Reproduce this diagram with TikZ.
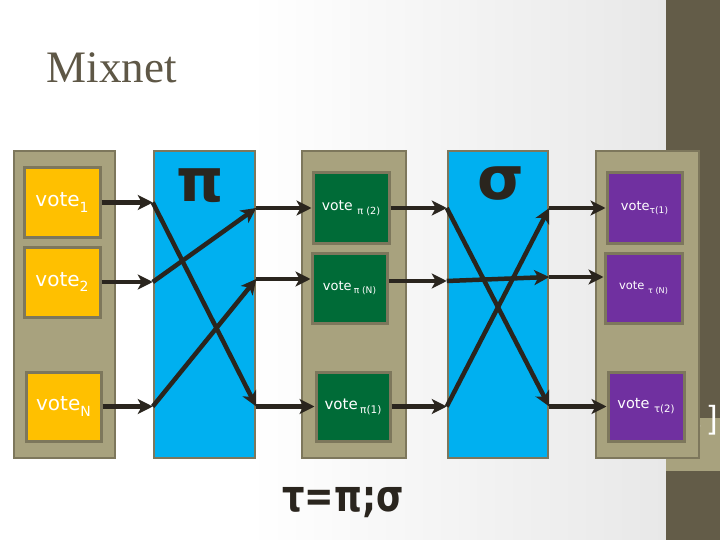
\documentclass[tikz,border=0pt]{standalone}
\usepackage{fontspec}
\setmainfont{DejaVu Sans}
\newfontfamily\titlefont{Liberation Serif}
\newfontfamily\edgefont{Liberation Sans}
\usetikzlibrary{arrows.meta}
\definecolor{olive}{RGB}{168,162,126}
\definecolor{olivedark}{RGB}{125,119,92}
\definecolor{strip}{RGB}{99,92,72}
\definecolor{mixblue}{RGB}{0,176,240}
\definecolor{voteyellow}{RGB}{255,192,0}
\definecolor{votegreen}{RGB}{0,107,55}
\definecolor{votepurple}{RGB}{112,48,160}
\definecolor{ink}{RGB}{42,37,30}
\definecolor{titlegray}{RGB}{94,87,70}
\newcommand{\voteidx}[1]{\raisebox{-0.5ex}{\scalebox{0.7}{#1}}}
\begin{document}
\begin{tikzpicture}
[
    x=1pt, y=-1pt,
    stack/.style={draw=olivedark, line width=2.5pt, fill=olive, inner sep=0pt, minimum height=307pt},
    mixer/.style={stack, fill=mixblue},
    ballot/.style={draw=olivedark, line width=3pt, text=white, inner sep=0pt, minimum width=76pt, minimum height=70pt},
    arr/.style={draw=ink, line width=4.5pt, -{Stealth[length=15pt, width=15pt, inset=4pt]}},
    glyph/.style={text=ink, inner sep=0pt, font=\fontsize{60}{60}\selectfont\bfseries},
]
\useasboundingbox (0,0) rectangle (720,540);
\fill[white] (0,0) rectangle (666,540);
\shade[left color=white, right color=black!9] (250,0) rectangle (666,540);
\fill[strip] (666,0) rectangle (720,540);
\fill[olive] (666,418) rectangle (720,471);
\node[text=white, font=\edgefont\fontsize{14}{14}\selectfont] (num) at (697,425) {5};
\node[text=white, font=\edgefont\fontsize{32}{32}\selectfont] (brk) at (713,420) {]};

\node[anchor=base west, text=titlegray, font=\titlefont\fontsize{45}{50}\selectfont] (title) at (43,83) {Mixnet};

\node[stack, minimum width=101pt] (in) at (64.5,304.5) {};
\node[mixer, minimum width=101pt] (pi) at (204.5,304.5) {};
\node[stack, minimum width=104pt] (mid) at (354,304.5) {};
\node[mixer, minimum width=100pt] (sigma) at (498,304.5) {};
\node[stack, minimum width=103pt] (out) at (647.5,304.5) {};

\node[ballot, fill=voteyellow, font=\fontsize{20}{24}\selectfont] (v1) at (62,202.5) {vote\voteidx{1}};
\node[ballot, fill=voteyellow, font=\fontsize{20}{24}\selectfont] (v2) at (62,282) {vote\voteidx{2}};
\node[ballot, fill=voteyellow, font=\fontsize{20}{24}\selectfont, minimum width=75pt, minimum height=69pt] (vN) at (63.5,406.5) {vote\voteidx{N}};

\node[ballot, fill=votegreen, font=\fontsize{14}{17}\selectfont] (p2) at (351,208) {vote \voteidx{π (2)}};
\node[ballot, fill=votegreen, font=\fontsize{13}{16}\selectfont, minimum width=75pt] (pN) at (349.5,288) {vote\,\voteidx{π (N)}};
\node[ballot, fill=votegreen, font=\fontsize{15}{18}\selectfont, minimum width=74pt, minimum height=69pt] (p1) at (353,406.5) {vote\,\voteidx{π(1)}};

\node[ballot, fill=votepurple, font=\fontsize{13}{16}\selectfont, minimum width=75pt] (t1) at (644.5,208) {vote\voteidx{τ(1)}};
\node[ballot, fill=votepurple, font=\fontsize{11.5}{14}\selectfont, minimum width=77pt] (tN) at (643.5,288) {vote \voteidx{τ (N)}};
\node[ballot, fill=votepurple, font=\fontsize{14.5}{17}\selectfont, minimum height=69pt] (t2) at (646,406.5) {vote \voteidx{τ(2)}};

\node[glyph] (pisym) at (200,186) {π};
\node[glyph] (sigmasym) at (501,184) {σ};
\node[glyph, font=\fontsize{44}{44}\selectfont\bfseries] (law) at (343,503) {\scalebox{0.8}[1]{τ=π;σ}};

\coordinate (pNin) at ([yshift=9pt]pN.west);
\coordinate (pNout) at ([yshift=7pt]pN.east);
\coordinate (tNin) at ([yshift=11pt]tN.west);

\draw[arr] (v1.east) -- (v1.east -| pi.west);
\draw[arr] (v2.east) -- (v2.east -| pi.west);
\draw[arr] (vN.east) -- (vN.east -| pi.west);
\draw[arr] (v1.east -| pi.west) -- (p1.west -| pi.east);
\draw[arr] (v2.east -| pi.west) -- (p2.west -| pi.east);
\draw[arr] (vN.east -| pi.west) -- (pNin -| pi.east);
\draw[arr] (p2.west -| pi.east) -- (p2.west);
\draw[arr] (pNin -| pi.east) -- (pNin);
\draw[arr] (p1.west -| pi.east) -- (p1.west);

\draw[arr] (p2.east) -- (p2.east -| sigma.west);
\draw[arr] (pNout) -- (pNout -| sigma.west);
\draw[arr] (p1.east) -- (p1.east -| sigma.west);
\draw[arr] (p2.east -| sigma.west) -- (t2.west -| sigma.east);
\draw[arr] (pNout -| sigma.west) -- (tNin -| sigma.east);
\draw[arr] (p1.east -| sigma.west) -- (t1.west -| sigma.east);
\draw[arr] (t1.west -| sigma.east) -- (t1.west);
\draw[arr] (tNin -| sigma.east) -- (tNin);
\draw[arr] (t2.west -| sigma.east) -- (t2.west);
\end{tikzpicture}
\end{document}
